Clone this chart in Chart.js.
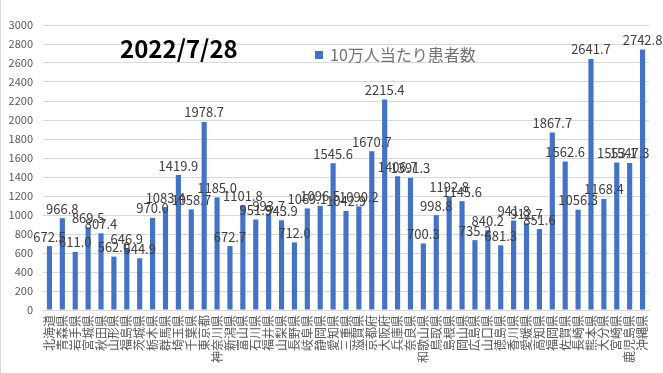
<!DOCTYPE html>
<html>
<head>
<meta charset="utf-8">
<script src="https://cdn.jsdelivr.net/npm/chart.js@4"></script>
<style>
  html, body { margin: 0; padding: 0; background: #fff; }
  #wrap { width: 663px; height: 373px; position: relative; }
</style>
</head>
<body>
<div id="wrap"><canvas id="c" width="663" height="373"></canvas></div>
<script>
const prefectures = ['北海道','青森県','岩手県','宮城県','秋田県','山形県','福島県','茨城県','栃木県','群馬県',
  '埼玉県','千葉県','東京都','神奈川県','新潟県','富山県','石川県','福井県','山梨県','長野県',
  '岐阜県','静岡県','愛知県','三重県','滋賀県','京都府','大阪府','兵庫県','奈良県','和歌山県',
  '鳥取県','島根県','岡山県','広島県','山口県','徳島県','香川県','愛媛県','高知県','福岡県',
  '佐賀県','長崎県','熊本県','大分県','宮崎県','鹿児島県','沖縄県'];

const perCapita = [672.5, 966.8, 611.0, 869.5, 807.4, 562.0, 646.9, 544.9, 970.0, 1083.4,
  1419.9, 1058.7, 1978.7, 1185.0, 672.7, 1101.8, 951.9, 993.7, 943.9, 712.0,
  1069.1, 1096.5, 1545.6, 1042.9, 1090.2, 1670.7, 2215.4, 1406.7, 1391.3, 700.3,
  998.8, 1192.8, 1145.6, 735.2, 840.2, 681.3, 941.8, 912.7, 851.6, 1867.7,
  1562.6, 1056.3, 2641.7, 1168.4, 1553.1, 1547.3, 2742.8];

const titleText = '2022/7/28';
const seriesName = '10万人当たり患者数';
const FONT = "'Noto Sans CJK JP', 'Noto Sans', sans-serif";
const BAR = '#4472C4';

// value labels, date title, legend and outer frame
const extras = {
  id: 'extras',
  beforeDraw(chart){
    const ctx = chart.ctx;
    ctx.save();
    ctx.fillStyle = '#d9d9d9';
    ctx.fillRect(0, 0, 1, chart.height);
    ctx.restore();
  },
  afterDatasetsDraw(chart){
    const ctx = chart.ctx;
    const meta = chart.getDatasetMeta(0);
    ctx.save();
    ctx.font = '13px ' + FONT;
    ctx.fillStyle = '#404040';
    ctx.textAlign = 'center';
    ctx.textBaseline = 'bottom';
    meta.data.forEach((bar, i) => {
      ctx.fillText(perCapita[i].toFixed(1), bar.x, bar.y - 3);
    });

    ctx.font = 'bold 24px ' + FONT;
    ctx.fillStyle = '#000';
    ctx.textAlign = 'left';
    ctx.textBaseline = 'middle';
    ctx.fillText(titleText, 120, 49);

    ctx.fillStyle = BAR;
    ctx.fillRect(315, 51, 8, 8);
    ctx.font = '16px ' + FONT;
    ctx.fillStyle = '#737373';
    ctx.fillText(seriesName, 330, 55);
    ctx.restore();
  }
};

new Chart(document.getElementById('c'), {
  type: 'bar',
  data: {
    labels: prefectures,
    datasets: [{
      label: seriesName,
      data: perCapita,
      backgroundColor: BAR,
      barPercentage: 0.4,
      categoryPercentage: 1.0
    }]
  },
  options: {
    responsive: false,
    animation: false,
    layout: { padding: { top: 25, right: 14, left: 0, bottom: 0 } },
    plugins: {
      legend: { display: false },
      tooltip: { enabled: false }
    },
    scales: {
      x: {
        grid: { display: false, drawTicks: false },
        border: { color: '#d9d9d9' },
        ticks: {
          color: '#595959',
          font: { family: FONT, size: 12 },
          autoSkip: false,
          minRotation: 90,
          maxRotation: 90,
          padding: 5
        },
        afterFit(scale){ scale.height = 63; }
      },
      y: {
        min: 0,
        max: 3000,
        grid: { color: '#d9d9d9', drawTicks: false },
        border: { display: false },
        ticks: {
          stepSize: 200,
          color: '#595959',
          font: { family: FONT, size: 11 },
          padding: 10,
          callback: v => String(v)
        },
        afterFit(scale){ scale.width = 43; }
      }
    }
  },
  plugins: [extras]
});
</script>
</body>
</html>
